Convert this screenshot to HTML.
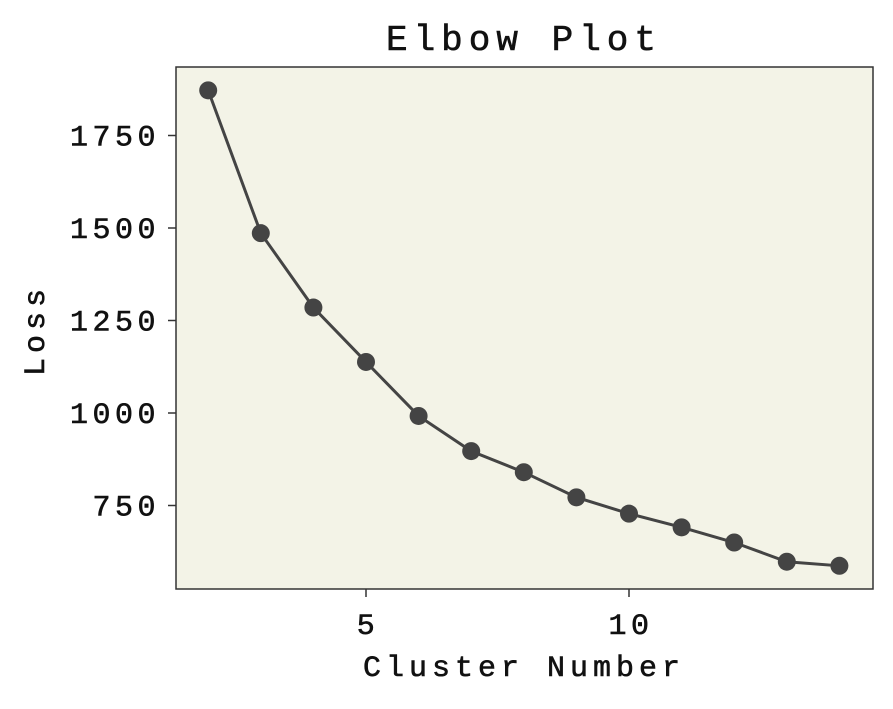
<!DOCTYPE html>
<html>
<head>
<meta charset="utf-8">
<style>
html,body{margin:0;padding:0;background:#fff;}
svg text{font-family:"Liberation Mono","DejaVu Sans Mono",monospace;fill:#111;stroke:#111;stroke-width:0.6;}
</style>
</head>
<body>
<svg width="893" height="704" viewBox="0 0 893 704">
  <rect x="176" y="67" width="697" height="522" fill="#f3f3e7" stroke="#333" stroke-width="1.5"/>
  <text x="524" y="50" font-size="36" letter-spacing="6" text-anchor="middle">Elbow Plot</text>
  <text x="524" y="676" font-size="30" letter-spacing="5" text-anchor="middle">Cluster Number</text>
  <text x="0" y="0" font-size="30" letter-spacing="5" text-anchor="middle" transform="translate(44,330) rotate(-90)">Loss</text>
  <g id="xticks"></g>
  <g id="yticks"></g>
  <g id="series"></g>
</svg>
<script>
const clusters = [2,3,4,5,6,7,8,9,10,11,12,13,14];
const losses = [1872,1486,1285,1138,992,897,840,772,728,691,650,598,587];
const xTickValues = [5,10];
const yTickValues = [750,1000,1250,1500,1750];

const NS = "http://www.w3.org/2000/svg";
function xScale(v){ return 366 + (v-5)*52.6; }
function yScale(v){ return 413 - (v-1000)*0.37; }
function mk(tag, attrs, parent){
  const e = document.createElementNS(NS, tag);
  for (const k in attrs) e.setAttribute(k, attrs[k]);
  parent.appendChild(e);
  return e;
}
const xg = document.getElementById('xticks');
xTickValues.forEach(v=>{
  const x = xScale(v);
  const l = mk('line',{x1:x,x2:x,y1:589,y2:597,stroke:'#333','stroke-width':1.5},xg);
  
  
  const t = mk('text',{x:x+2,y:634,'font-size':30,'letter-spacing':4.5,'text-anchor':'middle'},xg);
  t.textContent = v;
  
  
});
const yg = document.getElementById('yticks');
yTickValues.forEach(v=>{
  const y = yScale(v);
  const l = mk('line',{x1:168,x2:176,y1:y,y2:y,stroke:'#333','stroke-width':1.5},yg);
  
  
  const t = mk('text',{x:160,y:y+10,'font-size':30,'letter-spacing':4.5,'text-anchor':'end'},yg);
  t.textContent = v;
  
  
});
const sg = document.getElementById('series');
const pts = clusters.map((c,i)=>xScale(c)+','+yScale(losses[i])).join(' ');
const pl = mk('polyline',{points:pts,fill:'none',stroke:'#444','stroke-width':3},sg);


clusters.forEach((c,i)=>{
  const p = mk('circle',{cx:xScale(c),cy:yScale(losses[i]),r:9,fill:'#444'},sg);
  
  
});
</script>
</body>
</html>
